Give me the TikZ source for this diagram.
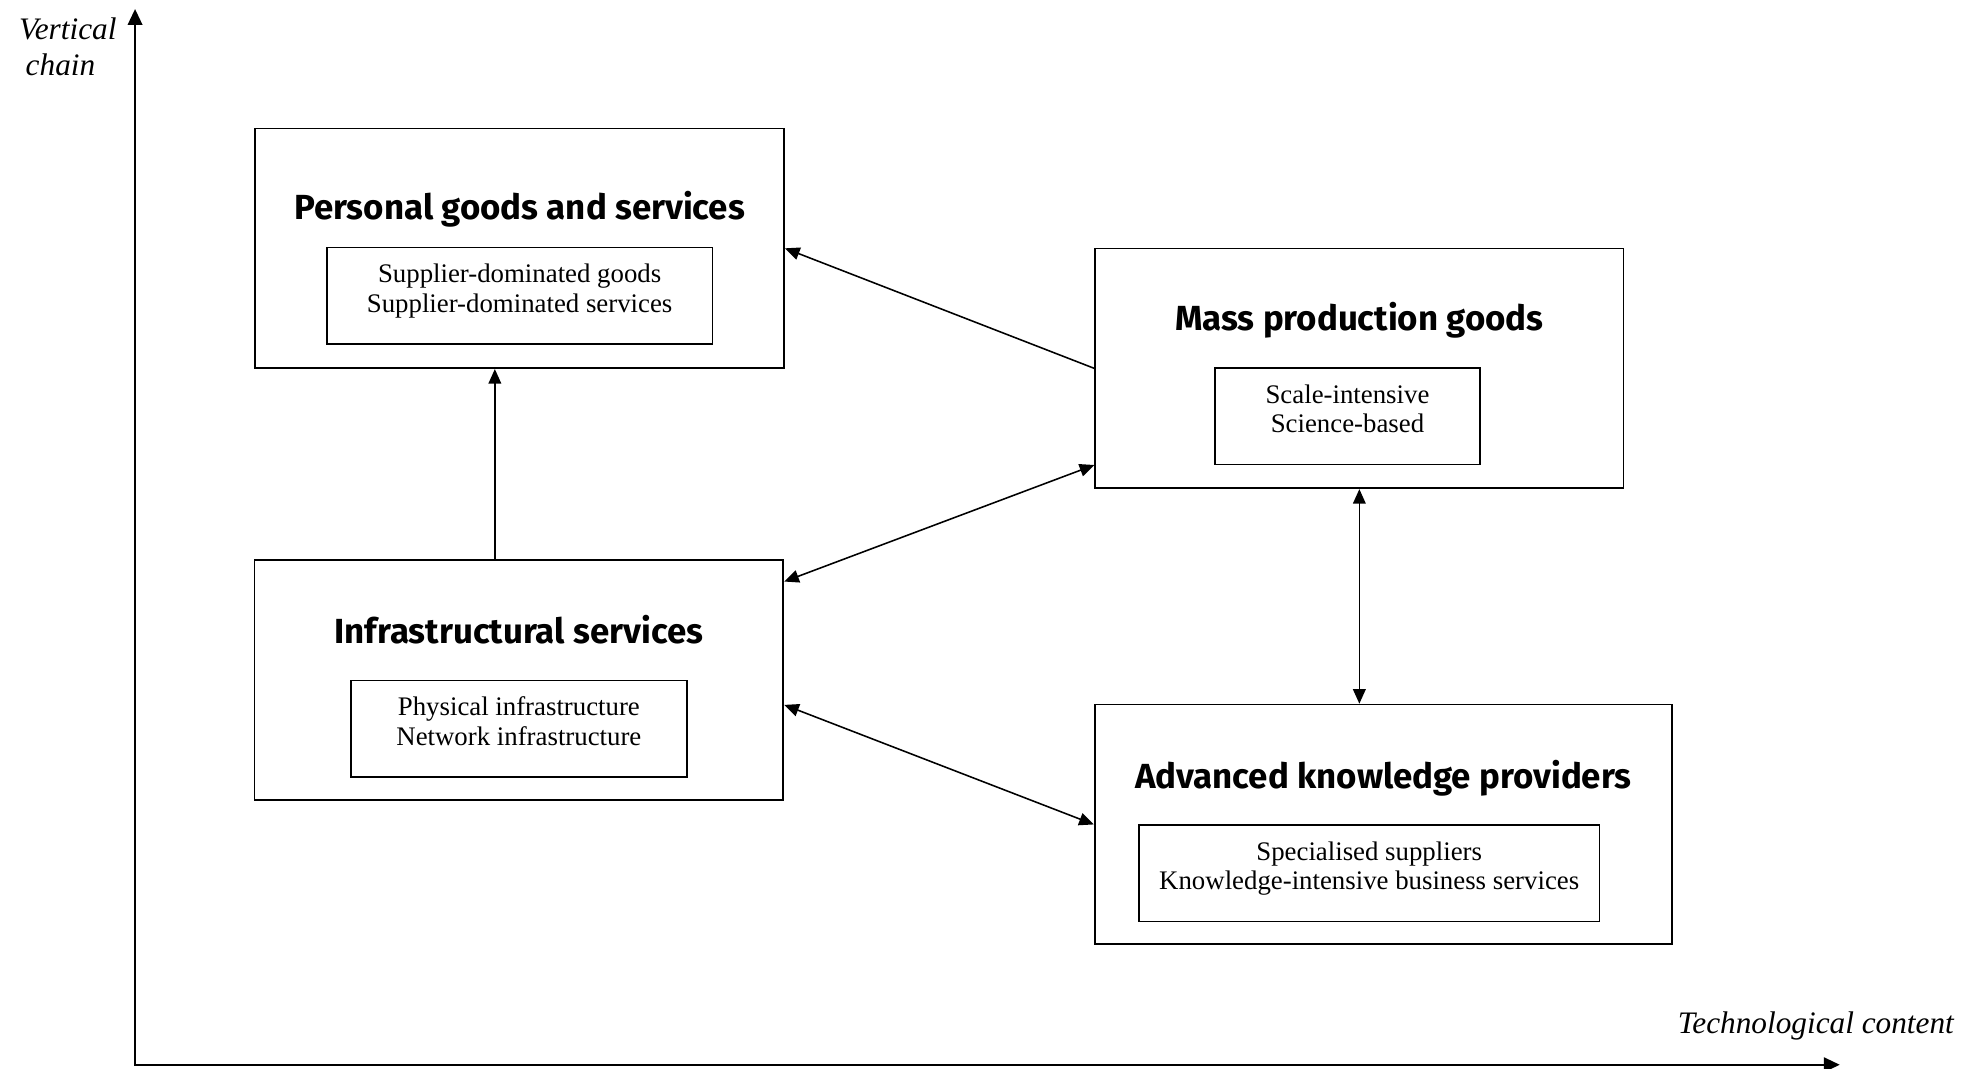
\documentclass[tikz,border=0pt]{standalone}
\usepackage{fontspec}
\setmainfont{Liberation Serif}
\newfontfamily\headfont{Fira Sans}
\usetikzlibrary{arrows.meta}
\usetikzlibrary{positioning}
\newcommand{\grouptop}{\rule{0pt}{9pt}}
\newcommand{\groupbottom}{\rule[-7.6pt]{0pt}{7.6pt}}

\begin{document}
\begin{tikzpicture}[x=0.02cm, y=-0.02cm,
  sector/.style={draw, line width=0.8pt, minimum height=3.77cm, inner sep=0pt},
  heading/.style={font=\headfont\bfseries\fontsize{15.6}{18.5}\selectfont, anchor=base, inner sep=0pt},
  group/.style={draw, line width=0.7pt, minimum height=1.52cm, align=center, inner sep=0pt, font=\fontsize{12}{13.2}\selectfont},
  link/.style={line width=0.7pt, -{Triangle[length=0.23cm, width=0.2cm]}},
  twoway/.style={line width=0.7pt, {Triangle[length=0.23cm, width=0.2cm]}-{Triangle[length=0.23cm, width=0.2cm]}},
  axes/.style={line width=0.8pt, {Triangle[length=0.25cm, width=0.23cm]}-{Triangle[length=0.25cm, width=0.23cm]}},
  axislabel/.style={font=\itshape\fontsize{14}{16.1}\selectfont, align=center, inner sep=0pt}]
%\draw [help lines] (0,0) grid[step=100] (1560,840);
\useasboundingbox (0,0) rectangle (1560,840.5);

\node[sector, minimum width=8.32cm]                               (pers)   at (408.6,195.25) {};
\node[heading]                                                    (ptitle) at ([yshift=-1.44cm]pers.north) {Personal goods and services};
\node[group, minimum width=6.06cm, below = 0.436cm of ptitle.base] (pgroup) {\grouptop Supplier-dominated goods\\Supplier-dominated services\groupbottom};

\node[sector, minimum width=8.31cm]                               (mass)   at (1068.85,289.65) {};
\node[heading]                                                    (mtitle) at ([yshift=-1.31cm]mass.north) {Mass production goods};
\node[group, minimum width=4.16cm, below = 0.57cm of mtitle.base, xshift = -0.187cm] (mgroup) {\grouptop Scale-intensive\\Science-based\groupbottom};

\node[sector, minimum width=8.32cm]                               (infr)   at (408,534.75) {};
\node[heading]                                                    (ititle) at ([yshift=-1.32cm]infr.north) {Infrastructural services};
\node[group, minimum width=5.29cm, below = 0.572cm of ititle.base] (igroup) {\grouptop Physical infrastructure\\Network infrastructure\groupbottom};

\node[sector, minimum width=9.08cm]                               (adv)    at (1087.7,648.25) {};
\node[heading]                                                    (atitle) at ([yshift=-1.34cm]adv.north) {Advanced knowledge providers};
\node[group, minimum width=7.25cm, below = 0.556cm of atitle.base, xshift = -0.222cm] (agroup) {\grouptop Specialised suppliers\\Knowledge-intensive business services\groupbottom};

% Axes
\coordinate (origin) at (106.2,837.2);
\coordinate (ytip)   at (106.2,7.1);
\coordinate (xtip)   at (1446.6,837.2);
\draw[axes] (ytip) -- (origin) -- (xtip);
\node[axislabel]              (vlabel) at (53.3,36.5)     {Vertical\\chain\hspace*{0.23cm}};
\node[axislabel, anchor=base] (hlabel) at (1427.8,812.5)  {Technological content};

% Edges
\coordinate (rise) at ([xshift=-0.378cm]infr.north);
\draw[link]   (rise) -- (rise |- pers.south);
\draw[link]   (mass.west) -- (pers.east);
\draw[twoway] ([yshift=1.55cm]infr.east) -- ([yshift=-1.52cm]mass.west);
\draw[twoway] ([yshift=-0.39cm]infr.east) -- (adv.west);
\draw[twoway] (mass.south) -- (mass.south |- adv.north);
\end{tikzpicture}
\end{document}
